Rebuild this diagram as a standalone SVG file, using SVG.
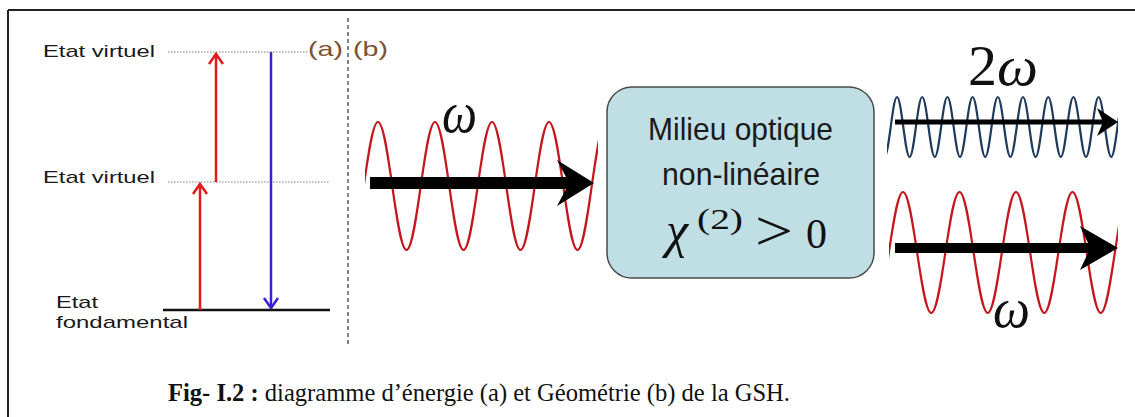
<svg xmlns="http://www.w3.org/2000/svg" width="1135" height="417" viewBox="0 0 1135 417">
  <style>
    .sans { font-family: "Liberation Sans", Arial, sans-serif; fill: #1a1a1a; }
    .serif { font-family: "Liberation Serif", "Times New Roman", "DejaVu Serif", serif; fill: #111; }
    .lbl { font-size: 17px; }
    .ab { font-size: 21px; fill: #7d5230; }
    .dot { stroke: #7a7a7a; stroke-width: 1; stroke-dasharray: 1.5 1.5; fill: none; }
    .red { stroke: #e01a1a; stroke-width: 2.5; fill: none; }
    .blue { stroke: #3d1fd2; stroke-width: 2.5; fill: none; }
    .wred { stroke: #c4161c; stroke-width: 2.2; fill: none; }
    .wblue { stroke: #1e3b5c; stroke-width: 2.2; fill: none; }
    .beam { fill: #000; }
    .omega { font-family: "Liberation Serif", "Times New Roman", "DejaVu Serif", serif; font-style: italic; fill: #111; }
  </style>
  <defs>
    <marker id="headRed" markerUnits="userSpaceOnUse" markerWidth="20" markerHeight="20" refX="0" refY="0" viewBox="-12 -10 14 20" orient="auto">
      <path d="M-10,-7 L0,0 L-10,7" fill="none" stroke="#e01a1a" stroke-width="2.5"/>
    </marker>
    <marker id="headBlue" markerUnits="userSpaceOnUse" markerWidth="20" markerHeight="20" refX="0" refY="0" viewBox="-12 -10 14 20" orient="auto">
      <path d="M-10,-7 L0,0 L-10,7" fill="none" stroke="#3d1fd2" stroke-width="2.5"/>
    </marker>
    <clipPath id="clipL"><rect x="365" y="100" width="233" height="170"/></clipPath>
    <clipPath id="clipB"><rect x="887" y="80" width="231" height="90"/></clipPath>
    <clipPath id="clipR"><rect x="889" y="180" width="229" height="150"/></clipPath>
  </defs>

  <g id="frame">
    <line x1="8" y1="10" x2="1135" y2="10" stroke="#222" stroke-width="2"/>
    <line x1="8" y1="10" x2="8" y2="417" stroke="#222" stroke-width="2"/>
    <line x1="348" y1="18" x2="348" y2="345" stroke="#444" stroke-width="1.3" stroke-dasharray="4 3"/>
  </g>

  <g id="levels">
    <line class="dot" x1="168" y1="52" x2="308" y2="52"/>
    <line class="dot" x1="168" y1="182" x2="330" y2="182"/>
    <line x1="163" y1="310" x2="330" y2="310" stroke="#111" stroke-width="2.5"/>
    <text class="sans lbl" x="43" y="57" textLength="112" lengthAdjust="spacingAndGlyphs">Etat virtuel</text>
    <text class="sans lbl" x="43" y="183" textLength="112" lengthAdjust="spacingAndGlyphs">Etat virtuel</text>
    <text class="sans lbl" x="56" y="308" textLength="42" lengthAdjust="spacingAndGlyphs">Etat</text>
    <text class="sans lbl" x="56" y="328" textLength="132" lengthAdjust="spacingAndGlyphs">fondamental</text>
  </g>

  <g id="labels-ab">
    <text class="sans ab" x="308" y="56" textLength="35" lengthAdjust="spacingAndGlyphs">(a)</text>
    <text class="sans ab" x="353" y="56" textLength="35" lengthAdjust="spacingAndGlyphs">(b)</text>
  </g>

  <g id="transitions">
    <line class="red" x1="200" y1="310" x2="200" y2="184" marker-end="url(#headRed)"/>
    <line class="red" x1="216" y1="182" x2="216" y2="54" marker-end="url(#headRed)"/>
    <line class="blue" x1="271" y1="52" x2="271" y2="308" marker-end="url(#headBlue)"/>
  </g>

  <g id="input-wave">
    <path class="wred" clip-path="url(#clipL)" d="M349.5,250 C359.86,250 367.64,122 378,122 S396.14,250 406.5,250 S424.64,122 435,122 S453.14,250 463.5,250 S481.64,122 492,122 S510.14,250 520.5,250 S538.64,122 549,122 S567.14,250 577.5,250 S595.64,122 606,122"/>
    <polygon class="beam" points="370,177 566,177 557,160 594,183 557,206 566,189 370,189"/>
    <text class="omega" x="442" y="132" font-size="60" textLength="35" lengthAdjust="spacingAndGlyphs">ω</text>
  </g>

  <g id="medium">
    <rect x="607" y="87" width="267" height="191" rx="25" ry="25" fill="#c0dfe4" stroke="#4a4a4a" stroke-width="1.5"/>
    <text class="sans" x="648" y="140" font-size="32" textLength="185" lengthAdjust="spacingAndGlyphs">Milieu optique</text>
    <text class="sans" x="662" y="185" font-size="32" textLength="158" lengthAdjust="spacingAndGlyphs">non-linéaire</text>
    <text class="serif" x="666" y="247" font-size="50" font-style="italic">χ</text>
    <text class="serif" x="697" y="229" font-size="29" textLength="46" lengthAdjust="spacingAndGlyphs">(2)</text>
    <text class="serif" x="755" y="250" font-size="56" textLength="38" lengthAdjust="spacingAndGlyphs">&gt;</text>
    <text class="serif" x="806" y="248" font-size="42">0</text>
  </g>

  <g id="output-2w">
    <path class="wblue" clip-path="url(#clipB)" d="M884.4,157 C888.98,157 892.42,97 897,97 S905.02,157 909.6,157 S917.62,97 922.2,97 S930.22,157 934.8,157 S942.82,97 947.4,97 S955.42,157 960,157 S968.02,97 972.6,97 S980.62,157 985.2,157 S993.22,97 997.8,97 S1005.82,157 1010.4,157 S1018.42,97 1023,97 S1031.02,157 1035.6,157 S1043.62,97 1048.2,97 S1056.22,157 1060.8,157 S1068.82,97 1073.4,97 S1081.42,157 1086,157 S1094.02,97 1098.6,97 S1106.62,157 1111.2,157 S1119.22,97 1123.8,97"/>
    <polygon class="beam" points="895,119.5 1102,119.5 1097,108 1118,122 1097,136 1102,124.5 895,124.5"/>
    <text class="serif" x="968" y="85" font-size="58">2<tspan font-style="italic">ω</tspan></text>
  </g>

  <g id="output-w">
    <path class="wred" clip-path="url(#clipR)" d="M874.75,313 C885.02,313 892.73,192 903,192 S920.98,313 931.25,313 S949.23,192 959.5,192 S977.48,313 987.75,313 S1005.73,192 1016,192 S1033.98,313 1044.25,313 S1062.23,192 1072.5,192 S1090.48,313 1100.75,313 S1118.73,192 1129,192"/>
    <polygon class="beam" points="895,243 1088,243 1080,226 1118,248 1080,270 1088,253 895,253"/>
    <text class="omega" x="993" y="327" font-size="58" textLength="37" lengthAdjust="spacingAndGlyphs">ω</text>
  </g>

  <g id="caption">
    <text class="serif" x="168" y="401" font-size="25" textLength="622" lengthAdjust="spacingAndGlyphs"><tspan font-weight="bold">Fig- I.2 :</tspan> diagramme d’énergie (a) et Géométrie (b) de la GSH.</text>
  </g>
</svg>
